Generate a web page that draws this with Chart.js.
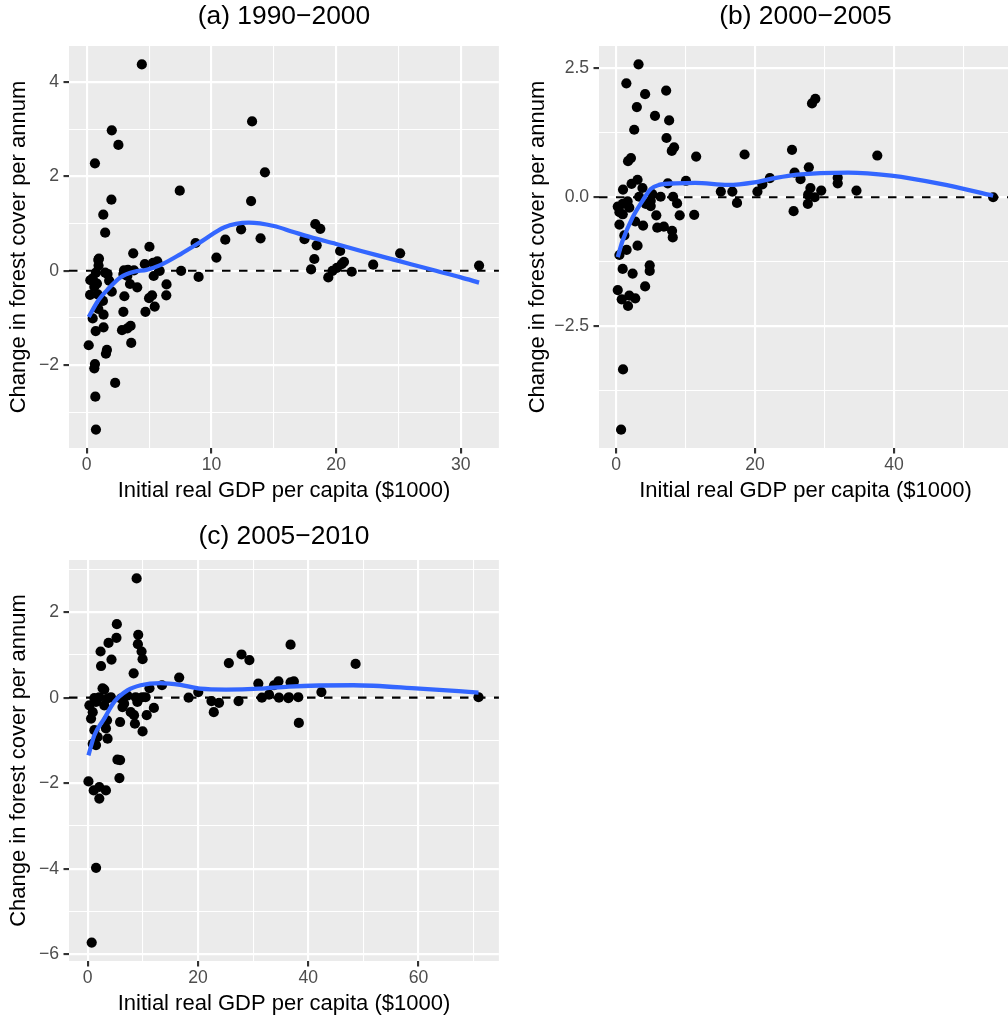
<!DOCTYPE html>
<html>
<head>
<meta charset="utf-8">
<script src="https://cdn.jsdelivr.net/npm/chart.js@4"></script>
<style>
html,body{margin:0;padding:0;background:#ffffff;overflow:hidden;width:1008px;height:1019px;}
body{position:relative;}
canvas{position:absolute;display:block;}
</style>
</head>
<body>
<canvas id="ca" width="504" height="505" style="left:0px;top:0px;"></canvas>
<canvas id="cb" width="498" height="505" style="left:519px;top:0px;"></canvas>
<canvas id="cc" width="504" height="498" style="left:0px;top:520px;"></canvas>
<script>
// ---------- Panel (a) 1990-2000 ----------
const titleA = '(a) 1990\u22122000';
const gdpA = [4.42,2.01,2.54,0.66,13.26,14.29,7.46,13.18,1.98,1.33,1.48,12.38,11.11,13.94,8.73,5.03,
  18.33,18.73,17.46,18.44,20.32,18.25,17.99,20.63,20.45,20.06,19.71,19.37,21.25,22.97,25.13,31.46,
  10.40,8.97,7.57,3.73,4.66,5.32,5.66,5.85,5.37,6.40,6.38,5.24,5.00,5.45,4.71,4.05,3.47,2.99,3.31,3.79,
  2.94,3.26,3.02,2.94,3.52,3.26,2.83,3.57,1.62,1.54,0.16,0.66,0.61,2.28,0.69,0.74,1.35,0.72,1.35,0.93,
  0.48,1.30,0.27,0.88,2.01,0.61,0.82,0.29,0.48,1.80,1.67,1.48,0.95,0.93,0.98,0.74];
const forestA = [4.38,2.98,2.67,2.28,3.17,2.09,1.70,1.48,1.51,1.19,0.81,0.88,0.66,0.69,0.59,0.51,
  0.99,0.89,0.67,0.54,0.42,0.25,0.03,0.19,0.14,0.06,0.00,-0.14,-0.02,0.13,0.37,0.11,
  0.28,-0.13,0.00,0.37,0.14,0.17,0.20,0.00,-0.11,-0.29,-0.52,-0.52,-0.58,-0.76,-0.87,-0.35,-0.28,0.01,0.02,0.01,
  -0.07,-0.11,-0.54,-0.87,-1.17,-1.22,-1.26,-1.53,-1.68,-1.76,-1.58,-1.98,-2.07,-2.38,-2.67,-3.37,-1.20,-1.28,-0.93,-0.81,
  -1.01,-0.64,-0.51,-0.50,-0.44,-0.34,-0.27,-0.20,-0.16,-0.21,-0.07,-0.04,0.11,0.23,0.26,-0.04];
const fitGdpA = [0.16,0.9,1.7,2.7,3.8,4.8,5.9,7.5,9.3,11,13,15,16.5,18,20,22,24,26,28,30,31.46];
const fitForestA = [-0.98,-0.64,-0.39,-0.14,-0.02,0.02,0.12,0.35,0.64,0.92,1.02,0.95,0.83,0.71,0.57,0.42,0.28,0.14,0.0,-0.14,-0.25];
const xLimA = [-1.42, 33.05], yLimA = [-3.76, 4.77];
const xMajorA = [0,10,20,30], xMinorA = [5,15,25];
const yMajorA = [-2,0,2,4], yMinorA = [-3,-1,1,3];

// ---------- Panel (b) 2000-2005 ----------
const titleB = '(b) 2000\u22122005';
const gdpB = [3.22,1.47,4.17,7.20,2.98,5.59,7.63,2.60,7.25,8.34,8.01,11.52,2.13,1.71,18.49,25.32,3.08,2.22,0.99,3.79,
  7.44,10.05,15.07,16.73,20.34,21.05,22.13,17.40,25.55,25.69,3.31,5.21,6.40,4.98,8.20,8.77,0.23,0.95,1.65,0.47,
  0.95,1.89,4.27,4.98,5.78,9.15,11.24,2.75,3.88,0.47,5.92,6.87,8.05,8.15,1.18,1.51,3.08,0.47,4.83,4.83,
  0.94,2.37,4.17,0.23,0.80,1.89,2.75,1.71,0.99,0.71,28.20,28.68,37.60,27.74,26.55,31.90,31.90,34.60,27.97,29.53,
  27.64,28.59,27.60,54.28];
const forestB = [2.58,2.21,2.00,2.07,1.75,1.58,1.49,1.31,1.15,0.97,0.90,0.79,0.76,0.70,0.83,0.92,0.34,0.26,0.15,0.18,
  0.27,0.32,0.11,0.11,0.11,0.25,0.37,-0.11,-0.27,0.48,0.01,0.06,0.01,-0.07,0.01,-0.12,-0.18,-0.13,-0.08,-0.29,
  -0.33,-0.20,-0.13,-0.17,-0.35,-0.35,-0.34,-0.47,-0.55,-0.53,-0.59,-0.57,-0.65,-0.78,-0.74,-1.02,-0.94,-1.12,-1.32,-1.43,
  -1.39,-1.48,-1.73,-1.80,-1.98,-1.91,-1.96,-2.11,-3.34,-4.51,1.82,1.91,0.81,0.58,0.35,0.38,0.27,0.13,0.18,0.13,
  0.05,0.00,-0.13,0.00];
const fitGdpB = [0.23,0.94,2.37,3.79,4.98,6.16,8.53,11.38,16.1,19.9,22.76,26.07,33.4,39.6,46.7,54.28];
const fitForestB = [-1.16,-0.84,-0.39,-0.07,0.16,0.24,0.27,0.28,0.24,0.29,0.37,0.44,0.48,0.42,0.26,0.03];
const xLimB = [-2.47, 56.98], yLimB = [-4.865, 2.935];
const xMajorB = [0,20,40], xMinorB = [10,30,50];
const yMajorB = [-2.5,0,2.5], yMinorB = [-3.75,-1.25,1.25];

// ---------- Panel (c) 2005-2010 ----------
const titleC = '(c) 2005\u22122010';
const gdpC = [8.87,5.28,5.21,3.77,2.33,4.31,2.41,9.16,9.10,9.77,9.95,8.33,2.69,3.00,11.20,13.47,16.59,18.30,20.05,25.60,
  27.90,29.33,22.45,23.82,22.87,27.36,30.95,31.60,32.90,33.80,34.60,34.70,36.40,36.80,36.80,1.20,2.10,0.30,0.90,0.60,
  1.50,3.00,3.60,4.20,6.00,7.20,8.70,9.90,10.50,9.00,6.60,6.30,7.80,8.40,12.00,10.70,8.56,5.87,9.95,1.20,
  3.30,3.50,3.60,1.80,0.90,1.50,5.87,5.39,5.75,0.13,1.08,2.10,3.30,2.10,1.51,0.72,48.60,37.40,42.40,36.50,
  38.20,38.30,70.90];
const forestC = [2.79,1.72,1.40,1.28,1.08,0.89,0.74,1.47,1.25,1.08,0.90,0.57,0.22,0.19,0.22,0.29,0.47,0.00,0.13,0.81,
  1.01,0.88,-0.08,-0.12,-0.34,-0.08,0.33,0.00,0.07,0.29,0.38,0.00,-0.01,1.24,0.36,-0.01,0.01,-0.18,-0.34,-0.49,
  -0.10,-0.18,-0.02,0.01,-0.02,0.05,0.01,0.01,0.01,-0.10,-0.14,-0.22,-0.34,-0.41,-0.24,-0.41,-0.61,-0.57,-0.79,-0.76,
  -0.72,-0.53,-0.96,-0.92,-1.08,-1.11,-1.46,-1.45,-1.88,-1.96,-2.17,-2.09,-2.17,-2.36,-3.98,-5.73,0.79,0.38,0.13,0.01,
  0.01,-0.59,0.01];
const fitGdpC = [0.13,1.2,3.0,4.8,7.2,9.6,13.2,16.8,20.4,25.1,31.1,36.5,48.2,60.2,70.9];
const fitForestC = [-1.35,-0.88,-0.49,-0.10,0.17,0.29,0.34,0.30,0.21,0.19,0.21,0.26,0.29,0.21,0.12];
const xLimC = [-3.4, 74.6], yLimC = [-6.16, 3.22];
const xMajorC = [0,20,40,60], xMinorC = [10,30,50,70];
const yMajorC = [-6,-4,-2,0,2], yMinorC = [-5,-3,-1,1,3];

const xTitle = 'Initial real GDP per capita ($1000)';
const yTitle = 'Change in forest cover per annum';

// ---------- rendering ----------
const FONT = "'Liberation Sans', Arial, Helvetica, sans-serif";
const fmtInt = v => v < 0 ? '\u2212' + Math.abs(v) : String(v);
const fmtDec = v => v < 0 ? '\u2212' + Math.abs(v).toFixed(1) : v.toFixed(1);

const panelBg = {
  id: 'panelBg',
  beforeDraw(chart) {
    const {ctx, chartArea: a} = chart;
    ctx.save();
    ctx.fillStyle = '#EBEBEB';
    ctx.fillRect(a.left, a.top, a.right - a.left, a.bottom - a.top);
    ctx.restore();
  }
};

function axis(lim, majors, minors, fmt, title, horizontal, size, titlePad) {
  const all = majors.concat(minors).sort((a, b) => a - b);
  const isMajor = v => majors.indexOf(v) !== -1;
  return {
    type: 'linear',
    position: horizontal ? 'bottom' : 'left',
    min: lim[0], max: lim[1],
    afterBuildTicks: s => { s.ticks = all.map(v => ({value: v})); },
    afterFit: s => { if (horizontal) s.height = size; else s.width = size; },
    border: {display: false},
    grid: {
      color: '#FFFFFF',
      lineWidth: c => (c.tick && isMajor(c.tick.value)) ? 2.13 : 1.07,
      drawTicks: true, tickLength: 5.5, tickWidth: 2.13,
      tickColor: c => (c.tick && isMajor(c.tick.value)) ? '#333333' : 'rgba(0,0,0,0)'
    },
    ticks: {
      autoSkip: false, maxRotation: 0, minRotation: 0,
      color: '#4D4D4D', padding: horizontal ? 1 : 4.4,
      font: {family: FONT, size: 17.6},
      callback: v => isMajor(v) ? fmt(v) : ''
    },
    title: {display: true, text: title, color: '#000000', font: {family: FONT, size: 22}, padding: titlePad}
  };
}

function panel(id, o) {
  const pts = o.gdp.map((x, i) => ({x: x, y: o.forest[i]}));
  const fit = o.fitGdp.map((x, i) => ({x: x, y: o.fitForest[i]}));
  const hline = [{x: o.xLim[0], y: 0}, {x: o.xLim[1], y: 0}];
  new Chart(document.getElementById(id), {
    type: 'scatter',
    data: {datasets: [
      {data: hline, showLine: true, borderColor: '#000000', borderWidth: 2.13, borderDash: [8.5, 8.5],
       pointRadius: 0, order: 3},
      {data: pts, pointRadius: 5.1, pointHoverRadius: 5.1, backgroundColor: '#000000', borderWidth: 0, order: 2},
      {data: fit, showLine: true, borderColor: '#3366FF', borderWidth: 4.27, pointRadius: 0,
       cubicInterpolationMode: 'monotone', order: 1}
    ]},
    options: {
      responsive: false, animation: false, events: [],
      layout: {padding: 0},
      plugins: {
        legend: {display: false}, tooltip: {enabled: false},
        title: {display: true, text: o.title, fullSize: false, color: '#000000',
          font: {family: FONT, size: 26.4, weight: 'normal', lineHeight: '32px'}, padding: o.titlePad}
      },
      scales: {
        x: axis(o.xLim, o.xMajor, o.xMinor, fmtInt, xTitle, true, 57, {top: 0, bottom: 0.8}),
        y: axis(o.yLim, o.yMajor, o.yMinor, o.yFmt, yTitle, false, o.yW, {top: 6, bottom: 0})
      }
    },
    plugins: [panelBg]
  });
}

panel('ca', {title: titleA, gdp: gdpA, forest: forestA, fitGdp: fitGdpA, fitForest: fitForestA,
  xLim: xLimA, yLim: yLimA, xMajor: xMajorA, xMinor: xMinorA, yMajor: yMajorA, yMinor: yMinorA,
  yFmt: fmtInt, yW: 69, titlePad: {top: 0.5, bottom: 13.5}});
panel('cb', {title: titleB, gdp: gdpB, forest: forestB, fitGdp: fitGdpB, fitForest: fitForestB,
  xLim: xLimB, yLim: yLimB, xMajor: xMajorB, xMinor: xMinorB, yMajor: yMajorB, yMinor: yMinorB,
  yFmt: fmtDec, yW: 80, titlePad: {top: 0.5, bottom: 13.5}});
panel('cc', {title: titleC, gdp: gdpC, forest: forestC, fitGdp: fitGdpC, fitForest: fitForestC,
  xLim: xLimC, yLim: yLimC, xMajor: xMajorC, xMinor: xMinorC, yMajor: yMajorC, yMinor: yMinorC,
  yFmt: fmtInt, yW: 69, titlePad: {top: 0.5, bottom: 7.5}});
</script>
</body>
</html>
